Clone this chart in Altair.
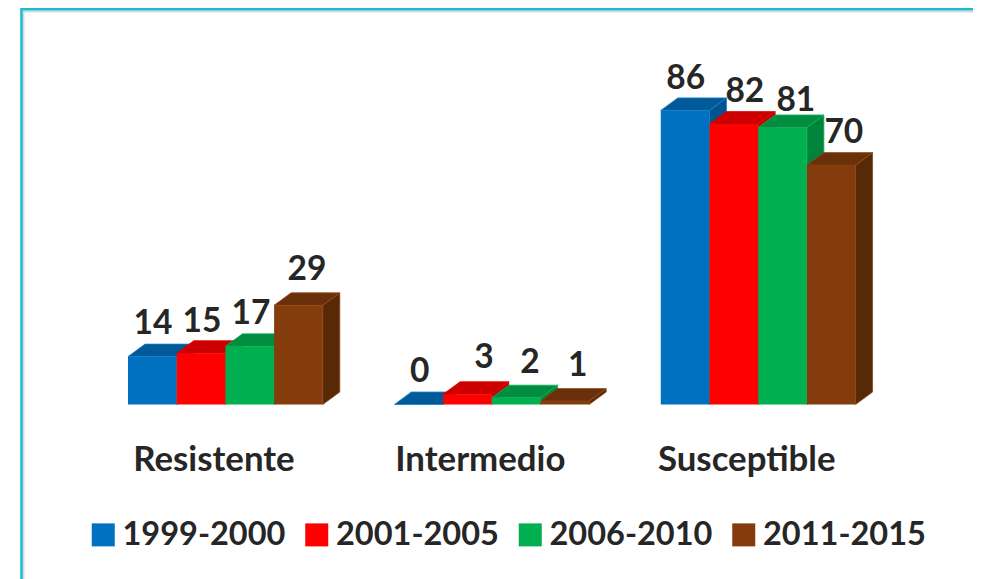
import altair as alt
import pandas as pd

categories = ["Resistente", "Intermedio", "Susceptible"]
periods = ["1999-2000", "2001-2005", "2006-2010", "2011-2015"]
values_1999 = [14, 0, 86]
values_2001 = [15, 3, 82]
values_2006 = [17, 2, 81]
values_2011 = [29, 1, 70]
series = [values_1999, values_2001, values_2006, values_2011]

front_colors = ["#0070C0", "#FF0000", "#00B050", "#843C0C"]
top_colors = ["#005A9A", "#CC0000", "#008D40", "#6A300A"]
side_colors = ["#00548F", "#BF0000", "#00843C", "#582907"]
edge_colors = ["#1A7FC8", "#E60000", "#0FB45A", "#8F4A1C"]

# hand-placed data label nudges (pixels from the bar's front-top centre)
label_dx = [[0.6, 1, 0.6], [1, 16.5, 11], [1.3, 13.8, 13.3], [8.6, 13, 12.6]]
label_dy = [[-33, -33, -31], [-31.5, -36.7, -31.7], [-32.7, -35.1, -26.2], [-35.5, -34.6, -32]]

W, PLOT_H = 965, 396.5
BAR_PX = 48.7
Y_PX = 3.42
LEFT = 120 / BAR_PX            # x units left of the first bar
GROUP_STEP = 5.47
DEPTH_X = 17 / BAR_PX
DEPTH_Y = 12.5 / Y_PX
LABEL_OFFSET = 1.755

x_scale = alt.Scale(domain=[-LEFT, -LEFT + W / BAR_PX], nice=False, zero=False)
y_scale = alt.Scale(domain=[0, PLOT_H / Y_PX], nice=False, zero=False)

front, top, side, labels = [], [], [], []
for s, vals in enumerate(series):
    for c, v in enumerate(vals):
        x0 = c * GROUP_STEP + s
        x1 = x0 + 1
        bar = f"{c}-{s}"
        base = dict(bar=bar, periodo=periods[s], categoria=categories[c], valor=v)
        front.append({**base, "x": x0, "x1": x1, "y0": 0, "y1": v})
        for px, a, b in [
            (x0, v, v),
            (x0 + DEPTH_X, v + DEPTH_Y, v),
            (x1, v + DEPTH_Y, v),
            (x1 + DEPTH_X, v + DEPTH_Y, v + DEPTH_Y),
        ]:
            top.append({**base, "x": px, "a": a, "b": b, "fill": top_colors[s], "edge": edge_colors[s]})
        for px, a, b in [(x1, v, 0), (x1 + DEPTH_X, v + DEPTH_Y, DEPTH_Y)]:
            side.append({**base, "x": px, "a": a, "b": b, "fill": side_colors[s], "edge": edge_colors[s]})
        labels.append({
            **base,
            "x": x0 + 0.5 + label_dx[s][c] / BAR_PX,
            "y": v - label_dy[s][c] / Y_PX,
        })

font = "Lato"
ink = "#262626"
x_axis = alt.Axis(
    title=None, domain=False, ticks=False, grid=False,
    values=[c * GROUP_STEP + LABEL_OFFSET for c in range(3)],
    labelExpr=f"{categories!r}[round((datum.value - {LABEL_OFFSET}) / {GROUP_STEP})]",
    labelFont=font, labelFontSize=34.8, labelFontWeight="bold", labelColor=ink,
    labelPadding=55.5, labelBaseline="middle", labelFlush=False, labelOverlap=False,
)
xenc = alt.X("x:Q", scale=x_scale, axis=x_axis)
yenc = alt.Y("a:Q", scale=y_scale, axis=None)


def dot():
    return alt.Chart(pd.DataFrame({"k": [0]}))


border = [
    dot().mark_rule(color="#D9D9D9", strokeWidth=2).encode(
        x=alt.value(15.5), y=alt.value(3), y2=alt.value(571)),
    dot().mark_rule(color="#D9D9D9", strokeWidth=2).encode(
        x=alt.value(15), x2=alt.value(965), y=alt.value(3.5)),
    dot().mark_rule(color="#17BECF", strokeWidth=2.5).encode(
        x=alt.value(13.5), y=alt.value(0), y2=alt.value(571)),
    dot().mark_rule(color="#17BECF", strokeWidth=2.5).encode(
        x=alt.value(12.5), x2=alt.value(965), y=alt.value(1.2)),
]

side_layer = alt.Chart(pd.DataFrame(side)).mark_area(orient="vertical", strokeWidth=0.8).encode(
    x=xenc, y=yenc, y2="b:Q", detail="bar:N",
    fill=alt.Fill("fill:N", scale=None),
    stroke=alt.Stroke("edge:N", scale=None),
)
top_layer = alt.Chart(pd.DataFrame(top)).mark_area(orient="vertical", strokeWidth=0.8).encode(
    x=xenc, y=yenc, y2="b:Q", detail="bar:N",
    fill=alt.Fill("fill:N", scale=None),
    stroke=alt.Stroke("edge:N", scale=None),
)
legend = alt.Legend(
    title=None, orient="none", direction="horizontal", columns=4,
    legendX=79, legendY=510.5, symbolType="square", symbolSize=529, symbolStrokeWidth=0,
    labelFont=font, labelFontSize=32.5, labelFontWeight="bold", labelColor=ink,
    labelOffset=3, columnPadding=14.5, labelLimit=300,
)
front_layer = alt.Chart(pd.DataFrame(front)).mark_rect().encode(
    x=xenc,
    x2="x1:Q",
    y=alt.Y("y1:Q", scale=y_scale, axis=None),
    y2="y0:Q",
    color=alt.Color("periodo:N", scale=alt.Scale(domain=periods, range=front_colors), legend=legend),
)
label_layer = alt.Chart(pd.DataFrame(labels)).mark_text(
    font=font, fontSize=33.5, fontWeight="bold", color=ink, align="center", baseline="middle",
).encode(x=xenc, y=alt.Y("y:Q", scale=y_scale, axis=None), text="valor:Q")

chart = alt.layer(*border, side_layer, top_layer, front_layer, label_layer).properties(
    width=W, height=PLOT_H, background="white",
    padding={"left": 0, "top": 0, "right": 0, "bottom": 174.5},
    autosize=alt.AutoSizeParams(type="none"),
).configure_view(stroke=None)

chart.save("out.html", embed_options={"renderer": "svg", "actions": False})
